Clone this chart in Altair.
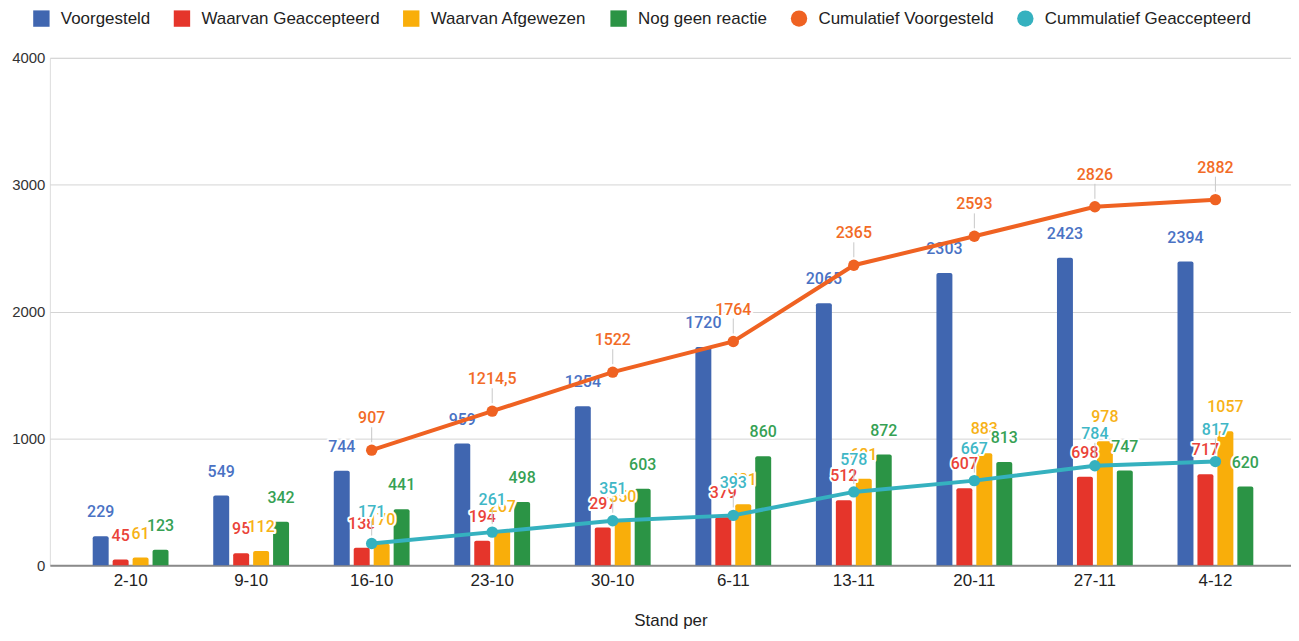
import altair as alt
import pandas as pd

dates = ["2-10", "9-10", "16-10", "23-10", "30-10", "6-11", "13-11", "20-11", "27-11", "4-12"]
voorgesteld = [229, 549, 744, 959, 1254, 1720, 2065, 2303, 2423, 2394]
geaccepteerd = [45, 95, 138, 194, 297, 379, 512, 607, 698, 717]
afgewezen = [61, 112, 170, 267, 350, 481, 681, 883, 978, 1057]
geen_reactie = [123, 342, 441, 498, 603, 860, 872, 813, 747, 620]
cum_voorgesteld = [None, None, 907, 1214.5, 1522, 1764, 2365, 2593, 2826, 2882]
cum_geaccepteerd = [None, None, 171, 261, 351, 393, 578, 667, 784, 817]

bar_series = ["Voorgesteld", "Waarvan Geaccepteerd", "Waarvan Afgewezen", "Nog geen reactie"]
line_series = ["Cumulatief Voorgesteld", "Cummulatief Geaccepteerd"]
series_names = bar_series + line_series
colors = ["#4066b0", "#e5352b", "#f9ae0a", "#2b9445", "#ef6222", "#35b1bf"]
label_colors = ["#4a72c4", "#ea4339", "#f7b217", "#36a154", "#f26b26", "#3fb7c6"]

values_by_series = [voorgesteld, geaccepteerd, afgewezen, geen_reactie, cum_voorgesteld, cum_geaccepteerd]

rows = []
for name, vals in zip(series_names, values_by_series):
    for d, v in zip(dates, vals):
        if v is None:
            continue
        rows.append({"date": d, "series": name, "value": v,
                     "label": f"{v:g}".replace(".", ",")})
df = pd.DataFrame(rows)

FONT = "Liberation Sans"
LABEL_FONT = "Roboto"
LFS = 16

color_scale = alt.Scale(domain=series_names, range=colors)
fill_scale = alt.Scale(domain=series_names, range=label_colors)
shape_scale = alt.Scale(domain=series_names, range=["square"] * 4 + ["circle"] * 2)

x_enc = alt.X(
    "date:N", sort=dates,
    scale=alt.Scale(paddingInner=0.371, paddingOuter=0.334, align=0.532),
    axis=alt.Axis(title="Stand per", labelAngle=0, ticks=False, domainColor="#8a8a8a",
                  domainWidth=2, labelFontSize=17, labelColor="#222222", labelPadding=7,
                  labelFont=FONT, titleFont=FONT, titleFontSize=17, titleFontWeight="normal",
                  titleColor="#222222", titlePadding=24),
)
y_enc = alt.Y(
    "value:Q", stack=None,
    scale=alt.Scale(domain=[0, 4000], nice=False),
    axis=alt.Axis(values=[0, 1000, 2000, 3000, 4000], format="d", domain=False, ticks=False,
                  gridColor="#d4d4d4", gridWidth=1, labelFontSize=15, labelColor="#333333",
                  labelFont=FONT, labelPadding=5, title=None),
)
xoff_enc = alt.XOffset("series:N", scale=alt.Scale(domain=bar_series, paddingInner=0.2, paddingOuter=0))

legend = alt.Legend(title=None, orient="none", legendX=-17, legendY=-48, direction="horizontal",
                    columns=6, symbolSize=270, labelFontSize=17, labelFont=FONT,
                    labelColor="#222222", columnPadding=23, labelOffset=11, symbolOpacity=1,
                    symbolStrokeWidth=0, padding=0, labelLimit=0)

base = alt.Chart(df)

bars = base.transform_filter(
    alt.FieldOneOfPredicate(field="series", oneOf=bar_series)
).mark_bar(cornerRadiusTopLeft=2, cornerRadiusTopRight=2).encode(
    x=x_enc, xOffset=xoff_enc, y=y_enc,
    color=alt.Color("series:N", scale=color_scale, legend=legend),
)

layers = [bars]

for s in bar_series:
    sub = base.transform_filter(alt.datum.series == s)
    halo = sub.mark_text(font=LABEL_FONT, fontSize=LFS, fontWeight=500, dy=-24, baseline="middle",
                         stroke="white", strokeWidth=4, strokeJoin="round", fill="white").encode(
        x=x_enc, xOffset=xoff_enc, y=y_enc, text="label:N")
    txt = sub.mark_text(font=LABEL_FONT, fontSize=LFS, fontWeight=500, dy=-24, baseline="middle").encode(
        x=x_enc, xOffset=xoff_enc, y=y_enc, text="label:N",
        fill=alt.Fill("series:N", scale=fill_scale, legend=None))
    layers += [halo, txt]

line_base = base.transform_filter(alt.FieldOneOfPredicate(field="series", oneOf=line_series))

leaders = line_base.mark_rule(color="#c8c8c8", strokeWidth=1, yOffset=-8, y2Offset=-23).encode(
    x=x_enc, y=y_enc, y2="value:Q")

lines = line_base.mark_line(strokeWidth=4).encode(
    x=x_enc, y=y_enc,
    color=alt.Color("series:N", scale=color_scale, legend=legend),
    detail="series:N",
)
points = line_base.mark_point(filled=True, size=130, opacity=1).encode(
    x=x_enc, y=y_enc,
    color=alt.Color("series:N", scale=color_scale, legend=legend),
    shape=alt.Shape("series:N", scale=shape_scale, legend=legend),
)
layers += [leaders, lines, points]

for s in line_series:
    sub = base.transform_filter(alt.datum.series == s)
    halo = sub.mark_text(font=LABEL_FONT, fontSize=LFS, fontWeight=500, dy=-32, baseline="middle",
                         stroke="white", strokeWidth=4, strokeJoin="round", fill="white").encode(
        x=x_enc, y=y_enc, text="label:N")
    txt = sub.mark_text(font=LABEL_FONT, fontSize=LFS, fontWeight=500, dy=-32, baseline="middle").encode(
        x=x_enc, y=y_enc, text="label:N",
        fill=alt.Fill("series:N", scale=fill_scale, legend=None))
    layers += [halo, txt]

chart = alt.layer(*layers).properties(
    width=1245, height=509,
    padding={"left": 42, "top": 49, "right": 0, "bottom": 66},
    autosize=alt.AutoSizeParams(type="none"),
).configure_view(stroke=None).configure(font=FONT)

chart.save("out.html", embed_options={"renderer": "svg", "actions": False})
